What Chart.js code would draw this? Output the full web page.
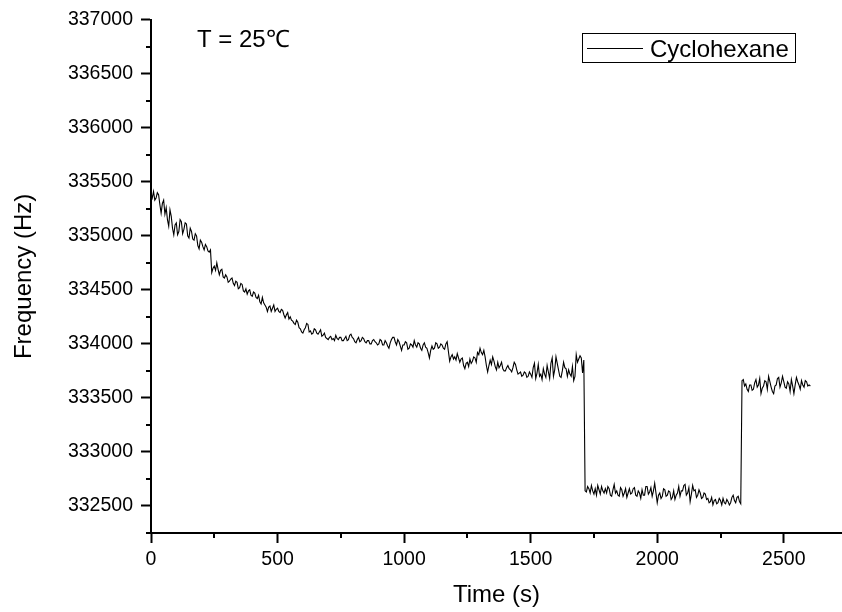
<!DOCTYPE html>
<html>
<head>
<meta charset="utf-8">
<script src="https://cdn.jsdelivr.net/npm/chart.js@4"></script>
<style>
  html, body { margin: 0; padding: 0; background: #fff; overflow: hidden; }
  canvas { display: block; }
</style>
</head>
<body>
<canvas id="c" width="842" height="612"></canvas>
<script>
// ---- data ----
const seriesLabel = "Cyclohexane";
const annotationText = "T = 25\u2103";
const xTitle = "Time (s)";
const yTitle = "Frequency (Hz)";
const sampleStep = 5; // seconds between samples
const frequency = [
  335390, 335350, 335410, 335330, 335350, 335400, 335380, 335290, 335210, 335300, 335330, 335200, 335260, 335150, 335090, 335240, 335180, 335070, 335010, 335100,
  335120, 335010, 335040, 335150, 335130, 335020, 335060, 335120, 335110, 335000, 334980, 335070, 335040, 334970, 334960, 335020, 335000, 334910, 334880, 334960,
  334940, 334900, 334870, 334920, 334900, 334860, 334850, 334870, 334660, 334700, 334720, 334680, 334750, 334690, 334640, 334680, 334690, 334620, 334610, 334640,
  334620, 334570, 334580, 334600, 334610, 334560, 334540, 334580, 334570, 334510, 334520, 334560, 334550, 334490, 334480, 334510, 334460, 334490, 334500, 334450,
  334440, 334480, 334470, 334430, 334420, 334450, 334390, 334370, 334430, 334380, 334360, 334340, 334300, 334340, 334350, 334300, 334330, 334360, 334300, 334320,
  334330, 334300, 334290, 334320, 334310, 334270, 334240, 334270, 334290, 334230, 334250, 334220, 334210, 334190, 334180, 334220, 334200, 334150, 334140, 334110,
  334100, 334130, 334150, 334190, 334180, 334110, 334120, 334090, 334100, 334140, 334130, 334100, 334090, 334110, 334130, 334070, 334080, 334100, 334060, 334050,
  334040, 334060, 334070, 334040, 334050, 334030, 334080, 334050, 334040, 334060, 334060, 334030, 334030, 334050, 334070, 334030, 334040, 334080, 334090, 334060,
  334050, 334020, 334010, 334040, 334060, 334020, 334030, 334060, 334050, 334020, 334010, 334030, 334030, 334000, 334000, 334030, 334040, 334020, 334010, 333990,
  334000, 334040, 334030, 333990, 333990, 334030, 334010, 333980, 333960, 334010, 334040, 334060, 334060, 334020, 333990, 334040, 334020, 333980, 333940, 333990,
  333990, 334020, 334010, 333950, 333960, 334000, 333990, 333970, 334030, 333990, 333970, 334010, 334000, 333960, 333940, 333990, 334010, 333970, 333960, 333920,
  333870, 333940, 333980, 333950, 333960, 334010, 334000, 333960, 333970, 334000, 333990, 333960, 333950, 334000, 334020, 333930, 333840, 333880, 333900, 333860,
  333880, 333850, 333910, 333870, 333830, 333860, 333870, 333800, 333770, 333820, 333830, 333790, 333860, 333820, 333840, 333880, 333870, 333830, 333920, 333900,
  333960, 333920, 333900, 333940, 333880, 333800, 333740, 333800, 333850, 333810, 333880, 333840, 333790, 333760, 333830, 333780, 333800, 333830, 333770, 333750,
  333750, 333780, 333800, 333770, 333760, 333740, 333780, 333830, 333810, 333760, 333720, 333730, 333740, 333700, 333710, 333740, 333730, 333690, 333700, 333740,
  333720, 333690, 333780, 333820, 333680, 333730, 333810, 333700, 333720, 333670, 333770, 333720, 333690, 333800, 333740, 333680, 333820, 333870, 333700, 333760,
  333880, 333820, 333760, 333700, 333690, 333750, 333830, 333780, 333770, 333700, 333760, 333720, 333700, 333790, 333660, 333700, 333900, 333830, 333860, 333890,
  333870, 333730, 333850, 332640, 332630, 332680, 332660, 332620, 332690, 332640, 332610, 332660, 332600, 332690, 332650, 332610, 332680, 332640, 332620, 332660,
  332620, 332680, 332660, 332600, 332590, 332650, 332700, 332620, 332640, 332600, 332590, 332670, 332650, 332590, 332620, 332660, 332580, 332620, 332660, 332610,
  332620, 332660, 332670, 332600, 332590, 332640, 332620, 332570, 332650, 332600, 332600, 332680, 332680, 332610, 332630, 332670, 332590, 332640, 332710, 332620,
  332530, 332600, 332620, 332570, 332590, 332660, 332650, 332590, 332600, 332640, 332630, 332560, 332580, 332640, 332560, 332600, 332620, 332680, 332590, 332640,
  332640, 332690, 332700, 332600, 332620, 332670, 332540, 332610, 332690, 332640, 332650, 332580, 332600, 332650, 332620, 332570, 332580, 332620, 332610, 332560,
  332570, 332530, 332540, 332580, 332510, 332550, 332560, 332520, 332530, 332570, 332550, 332510, 332570, 332530, 332520, 332560, 332540, 332510, 332530, 332580,
  332600, 332550, 332530, 332580, 332590, 332540, 332520, 333660, 333670, 333610, 333630, 333580, 333560, 333620, 333620, 333570, 333580, 333640, 333670, 333600,
  333620, 333680, 333540, 333590, 333610, 333660, 333650, 333580, 333700, 333650, 333600, 333560, 333540, 333610, 333620, 333680, 333690, 333600, 333640, 333700,
  333650, 333600, 333590, 333650, 333630, 333560, 333670, 333610, 333540, 333620, 333690, 333650, 333620, 333580, 333660, 333620, 333600, 333660, 333650, 333610,
  333620, 333610
];
const xMin = 0, xMax = 2730, xMajor = 500, xMinor = 250;
const yMin = 332250, yMax = 337000, yMajor = 500, yMinor = 250;

// ---- chart ----
const FONT = "'Liberation Sans', Arial, Helvetica, sans-serif";
Chart.defaults.font.family = FONT;
Chart.defaults.color = '#000';

const points = frequency.map((v, i) => ({ x: i * sampleStep, y: v }));

function buildTicks(scale, step) {
  const out = [];
  const start = Math.ceil(scale.min / step) * step;
  for (let v = start; v <= scale.max + 1e-9; v += step) out.push({ value: v });
  scale.ticks = out;
}
const isMajor = (v, major) => Math.abs(Math.round(v / major) * major - v) < 1e-6;

const minorTicks = {
  id: 'minorTicks',
  afterDraw(chart) {
    const ctx = chart.ctx, a = chart.chartArea;
    ctx.save();
    ctx.strokeStyle = '#000';
    ctx.lineWidth = 2;
    const xs = chart.scales.x, ys = chart.scales.y;
    xs.ticks.forEach(t => {
      if (!isMajor(t.value, xMajor)) {
        const px = Math.round(xs.getPixelForValue(t.value));
        ctx.beginPath(); ctx.moveTo(px, a.bottom); ctx.lineTo(px, a.bottom + 5); ctx.stroke();
      }
    });
    ys.ticks.forEach(t => {
      if (!isMajor(t.value, yMajor)) {
        const py = Math.round(ys.getPixelForValue(t.value));
        ctx.beginPath(); ctx.moveTo(a.left - 5, py); ctx.lineTo(a.left, py); ctx.stroke();
      }
    });
    ctx.restore();
  }
};

const decorations = {
  id: 'decorations',
  afterDraw(chart) {
    const ctx = chart.ctx;
    ctx.save();
    ctx.fillStyle = '#000';
    ctx.font = "24px " + FONT;
    ctx.textBaseline = 'alphabetic';
    ctx.textAlign = 'left';
    ctx.fillText(annotationText, 197, 47);
    // legend box
    ctx.strokeStyle = '#000';
    ctx.lineWidth = 1;
    ctx.strokeRect(582.5, 33.5, 213, 29);
    ctx.beginPath(); ctx.moveTo(587, 48.5); ctx.lineTo(643, 48.5); ctx.stroke();
    ctx.fillText(chart.data.datasets[0].label, 650, 57);
    ctx.restore();
  }
};

new Chart(document.getElementById('c'), {
  type: 'line',
  data: {
    datasets: [{
      label: seriesLabel,
      data: points,
      borderColor: '#000',
      borderWidth: 1.1,
      pointRadius: 0,
      tension: 0,
      fill: false
    }]
  },
  options: {
    responsive: false,
    animation: false,
    devicePixelRatio: 1,
    layout: { padding: { top: 17, right: 0, bottom: 0, left: 0 } },
    plugins: { legend: { display: false }, tooltip: { enabled: false } },
    scales: {
      x: {
        type: 'linear',
        min: xMin, max: xMax,
        afterBuildTicks: s => buildTicks(s, xMinor),
        afterFit: s => { s.height = 79; },
        ticks: {
          autoSkip: false,
          maxRotation: 0,
          minRotation: 0,
          padding: 5,
          font: { size: 19.5 },
          color: '#000',
          callback: v => (isMajor(v, xMajor) ? String(Math.round(v)) : '')
        },
        grid: {
          drawOnChartArea: false,
          drawTicks: true,
          tickLength: 10,
          tickWidth: 2,
          tickColor: c => (c.tick && isMajor(c.tick.value, xMajor) ? '#000' : 'rgba(0,0,0,0)')
        },
        border: { display: true, color: '#000', width: 2 },
        title: { display: true, text: xTitle, font: { size: 24 }, color: '#000', padding: { top: 0, bottom: 2 } }
      },
      y: {
        type: 'linear',
        min: yMin, max: yMax,
        afterBuildTicks: s => buildTicks(s, yMinor),
        afterFit: s => { s.width = 151; },
        ticks: {
          autoSkip: false,
          padding: 8,
          font: { size: 19.5 },
          color: '#000',
          callback: v => (isMajor(v, yMajor) ? String(Math.round(v)) : '')
        },
        grid: {
          drawOnChartArea: false,
          drawTicks: true,
          tickLength: 10,
          tickWidth: 2,
          tickColor: c => (c.tick && isMajor(c.tick.value, yMajor) ? '#000' : 'rgba(0,0,0,0)')
        },
        border: { display: true, color: '#000', width: 2 },
        title: { display: true, text: yTitle, font: { size: 24 }, color: '#000', padding: { top: 10, bottom: 0 } }
      }
    }
  },
  plugins: [minorTicks, decorations]
});
</script>
</body>
</html>
